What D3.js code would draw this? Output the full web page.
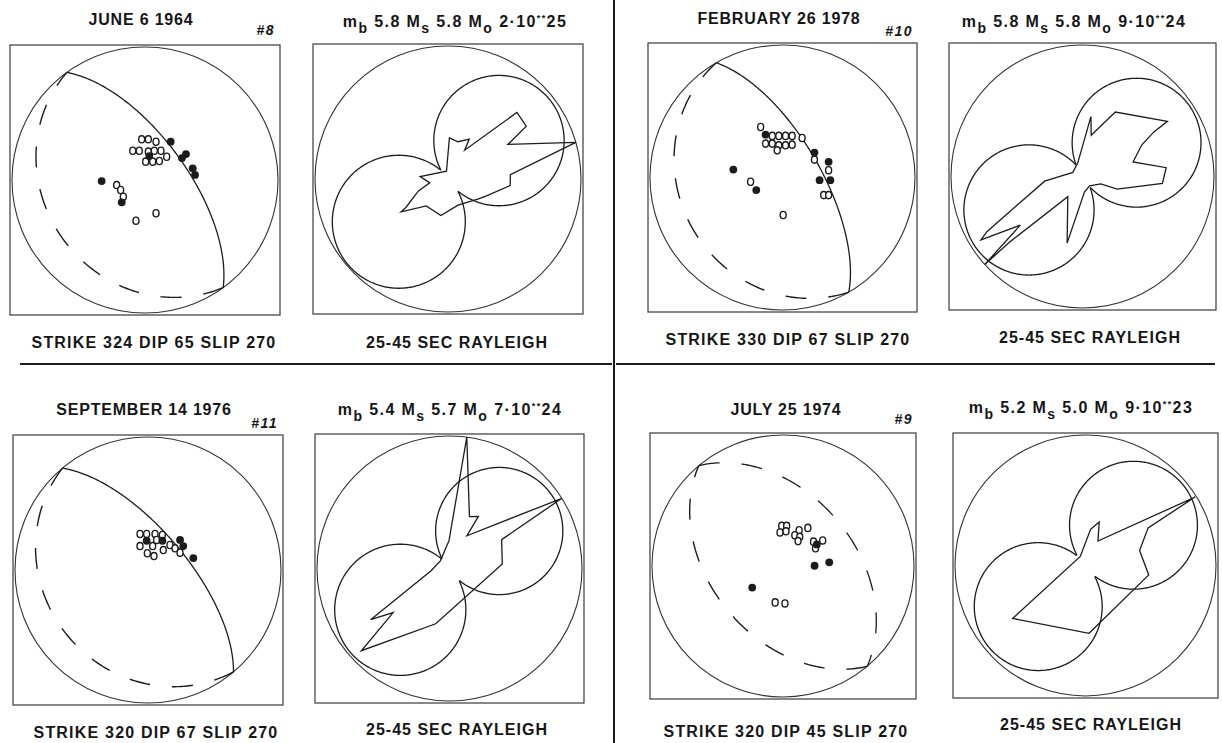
<!DOCTYPE html>
<html><head><meta charset="utf-8">
<script src="https://cdn.jsdelivr.net/npm/d3@7"></script>
<style>
body{margin:0;background:#fff}
svg{display:block}
text{font-family:"Liberation Sans",Arial,sans-serif;font-weight:bold;fill:#161616}
</style></head><body>
<svg id="fig" width="1222" height="743"></svg>
<script>
// ---- Event metadata ----
const eventDates = ["JUNE 6 1964", "FEBRUARY 26 1978", "SEPTEMBER 14 1976", "JULY 25 1974"];
const eventIds = ["#8", "#10", "#11", "#9"];
const strikes = [324, 330, 320, 320];
const dips = [65, 67, 67, 45];
const slips = [270, 270, 270, 270];
const mbValues = ["5.8", "5.8", "5.4", "5.2"];
const msValues = ["5.8", "5.8", "5.7", "5.0"];
const moMantissa = ["2", "9", "7", "9"];
const moExponent = ["25", "24", "24", "23"];
const waveBand = "25-45 SEC RAYLEIGH";
const primaryPlaneDashed = [false, false, false, true];

// ---- P-wave first motions, [east, north] on the equal-area lower hemisphere ----
const dilatations = [
  [[-0.025,0.306],[0.025,0.306],[0.083,0.288],[-0.092,0.220],[-0.043,0.220],[0.025,0.213],[0.070,0.220],[0.120,0.220],[0.163,0.175],[0.005,0.138],[0.058,0.138],[0.108,0.143],[-0.213,-0.038],[-0.183,-0.075],[-0.163,-0.126],[-0.068,-0.306],[0.083,-0.250]],
  [[-0.165,0.381],[-0.077,0.314],[-0.028,0.314],[0.023,0.314],[0.073,0.314],[0.148,0.298],[-0.128,0.256],[-0.077,0.256],[-0.028,0.243],[0.023,0.243],[0.073,0.248],[-0.040,0.205],[0.241,0.135],[0.348,0.055],[0.311,-0.133],[0.348,-0.133],[-0.241,-0.032],[0.005,-0.283]],
  [[-0.060,0.271],[-0.010,0.271],[0.053,0.271],[0.108,0.263],[0.065,0.226],[0.165,0.188],[-0.060,0.180],[0.035,0.180],[0.115,0.150],[0.203,0.163],[0.241,0.130],[-0.005,0.126],[0.045,0.105]],
  [[-0.010,0.306],[0.028,0.306],[-0.023,0.256],[0.023,0.265],[0.123,0.273],[0.190,0.291],[0.090,0.235],[0.128,0.223],[0.115,0.190],[0.233,0.186],[0.303,0.195],[0.248,0.135],[-0.060,-0.278],[0.015,-0.286]]
];
const compressions = [
  [[0.193,0.288],[0.032,0.180],[0.278,0.165],[0.308,0.195],[0.359,0.088],[0.376,0.038],[-0.326,-0.008],[-0.175,-0.168]],
  [[-0.128,0.323],[0.241,0.188],[0.348,0.118],[0.361,-0.020],[0.280,-0.020],[-0.371,0.060],[-0.198,-0.095]],
  [[-0.010,0.220],[0.108,0.220],[0.241,0.226],[0.265,0.180],[0.341,0.090]],
  [[0.258,0.165],[0.241,0.002],[0.353,0.028],[-0.235,-0.165]]
];

// ---- Rayleigh radiation: theoretical lobes [azimuth deg, centre distance, radius] ----
const rayleighLobes = [
  [[53,0.48,0.49],[229,0.49,0.50]],
  [[58,0.485,0.49],[238,0.48,0.495]],
  [[53,0.47,0.48],[230,0.485,0.495]],
  [[50,0.48,0.49],[229,0.48,0.49]]
];
// ---- Observed Rayleigh amplitudes [azimuth deg, relative amplitude] ----
const rayleighObserved = [
  [[2,0.31],[15,0.29],[28,0.34],[30,0.25],[46,0.72],[56,0.71],[60,0.52],[74,1.0],[86,0.47],[96,0.47],[115,0.31],[124,0.27],[159,0.21],[191,0.28],[219,0.26],[235,0.43],[236,0.38],[248,0.24],[258,0.14],[275,0.21],[349,0.06]],
  [[8,0.46],[12,0.32],[27,0.55],[57,0.77],[58,0.64],[62,0.51],[74,0.40],[84,0.64],[95,0.61],[110,0.28],[112,0.15],[143,0.09],[173,0.12],[193,0.52],[216,0.19],[228,0.74],[228,1.0],[232,0.60],[238,0.91],[240,0.84],[263,0.29],[293,0.08],[341,0.11]],
  [[7.5,1.0],[21,0.42],[29,0.45],[28,0.28],[58,1.0],[61,0.45],[85,0.40],[194,0.43],[227,0.91],[232,0.54],[237,0.71],[263,0.14],[310,0.09],[359,0.21]],
  [[8,0.28],[17.5,0.35],[27,0.21],[58,0.99],[59,0.56],[74.5,0.43],[98.5,0.49],[177,0.52],[234,0.69],[330,0.08]]
];

// ---- Page layout ----
const focalBoxes = [[10,45,270],[648,43,269],[13,435,270],[650,433,266]];
const radBoxes   = [[313,44,270],[949,43,267],[315,434,269],[953,433,265]];
const datePos  = [[141,25],[779,24],[144,415],[786,415]];
const idPos    = [[275,35],[913,36],[278,428],[913,424]];
const mechPos  = [[154,348],[788,345],[156,738],[786,737]];
const magPos   = [[455,27],[1074,27],[450,415],[1081,413]];
const bandPos  = [[457,348],[1090,343],[457,735],[1091,730]];

const svg = d3.select("#fig");
const ink = "#1c1c1c";
const rad = Math.PI / 180;

// frame dividers
svg.append("line").attr("x1",614).attr("x2",614).attr("y1",0).attr("y2",743)
  .attr("stroke",ink).attr("stroke-width",2);
svg.append("line").attr("x1",20).attr("x2",612).attr("y1",364).attr("y2",364)
  .attr("stroke",ink).attr("stroke-width",2);
svg.append("line").attr("x1",616).attr("x2",1215).attr("y1",364).attr("y2",364)
  .attr("stroke",ink).attr("stroke-width",2);

function panelFrame(box) {
  const [x0, y0, s] = box;
  const R = s / 2 - 2, cx = x0 + s / 2, cy = y0 + s / 2;
  const x = d3.scaleLinear().domain([-1, 1]).range([cx - R, cx + R]);
  const y = d3.scaleLinear().domain([-1, 1]).range([cy + R, cy - R]);
  const g = svg.append("g");
  g.append("rect").attr("x", x0).attr("y", y0).attr("width", s).attr("height", s)
    .attr("fill", "none").attr("stroke", "#3a3a3a").attr("stroke-width", 1.2);
  g.append("circle").attr("cx", x(0)).attr("cy", y(0)).attr("r", x(1) - x(0))
    .attr("fill", "none").attr("stroke", "#333").attr("stroke-width", 1.1);
  return { g, x, y };
}

// great circle of a plane (strike, dip) on the lower hemisphere, equal-area
function planeTrace(strike, dip) {
  const f = strike * rad, d = dip * rad;
  const s = [Math.cos(f), Math.sin(f), 0];
  const dd = [Math.cos(f + Math.PI / 2) * Math.cos(d), Math.sin(f + Math.PI / 2) * Math.cos(d), Math.sin(d)];
  return d3.range(0, 180.5, 1).map(t => {
    const c = Math.cos(t * rad), si = Math.sin(t * rad);
    const v = [c * s[0] + si * dd[0], c * s[1] + si * dd[1], c * s[2] + si * dd[2]];
    const plunge = Math.asin(Math.min(1, Math.max(-1, v[2])));
    const az = Math.atan2(v[1], v[0]);
    const r = Math.SQRT2 * Math.sin((Math.PI / 2 - plunge) / 2);
    return [r * Math.sin(az), r * Math.cos(az)];
  });
}

// auxiliary plane from strike/dip/rake
function auxPlane(strike, dip, slip) {
  const f = strike * rad, d = dip * rad, l = slip * rad;
  let u = [Math.cos(l) * Math.cos(f) + Math.sin(l) * Math.cos(d) * Math.sin(f),
           Math.cos(l) * Math.sin(f) - Math.sin(l) * Math.cos(d) * Math.cos(f),
           -Math.sin(l) * Math.sin(d)];
  if (u[2] > 0) u = u.map(v => -v);
  const dip2 = Math.acos(-u[2]) / rad;
  const strike2 = (Math.atan2(u[1], u[0]) / rad - 90 + 360) % 360;
  return [strike2, dip2];
}

function polar(az, amp) { return [amp * Math.sin(az * rad), amp * Math.cos(az * rad)]; }

function label(x, y, txt, spacing) {
  return svg.append("text").attr("x", x).attr("y", y).attr("text-anchor", "middle")
    .attr("font-size", 16).style("letter-spacing", spacing + "px").text(txt);
}

for (let i = 0; i < 4; i++) {
  // ---------- focal mechanism ----------
  const F = panelFrame(focalBoxes[i]);
  const line = d3.line().x(p => F.x(p[0])).y(p => F.y(p[1]));
  F.g.append("path").attr("d", line(planeTrace(strikes[i], dips[i])))
    .attr("fill", "none").attr("stroke", ink).attr("stroke-width", 1.3)
    .attr("stroke-dasharray", primaryPlaneDashed[i] ? "21,22" : null);
  const [s2, d2] = auxPlane(strikes[i], dips[i], slips[i]);
  F.g.append("path").attr("d", line(planeTrace(s2, d2)))
    .attr("fill", "none").attr("stroke", ink).attr("stroke-width", 1.4)
    .attr("stroke-dasharray", "21,22");
  F.g.selectAll("ellipse.dil").data(dilatations[i]).join("ellipse")
    .attr("cx", p => F.x(p[0])).attr("cy", p => F.y(p[1]))
    .attr("rx", 3).attr("ry", 3.6).attr("fill", "#fff").attr("stroke", ink).attr("stroke-width", 1.4);
  F.g.selectAll("circle.comp").data(compressions[i]).join("circle")
    .attr("cx", p => F.x(p[0])).attr("cy", p => F.y(p[1]))
    .attr("r", 3.9).attr("fill", ink);

  label(datePos[i][0], datePos[i][1], eventDates[i], 0.8);
  svg.append("text").attr("x", idPos[i][0]).attr("y", idPos[i][1])
    .attr("text-anchor", "end").attr("font-size", 14).attr("font-style", "italic")
    .style("letter-spacing", "1.5px").text(eventIds[i]);
  label(mechPos[i][0], mechPos[i][1], `STRIKE ${strikes[i]} DIP ${dips[i]} SLIP ${slips[i]}`, 1.2);

  // ---------- Rayleigh radiation pattern ----------
  const P = panelFrame(radBoxes[i]);
  const lobes = rayleighLobes[i].map(([az, dist, r]) => ({ c: polar(az, dist), r }));
  lobes.forEach((lb, k) => {
    const other = lobes[1 - k];
    const pts = d3.range(0, 361, 1).map(t => [lb.c[0] + lb.r * Math.sin(t * rad), lb.c[1] + lb.r * Math.cos(t * rad)]);
    const outside = p => Math.hypot(p[0] - other.c[0], p[1] - other.c[1]) >= other.r;
    P.g.append("path")
      .attr("d", d3.line().defined(outside).x(p => P.x(p[0])).y(p => P.y(p[1]))(pts))
      .attr("fill", "none").attr("stroke", ink).attr("stroke-width", 1.3);
  });
  P.g.append("path")
    .attr("d", d3.line().curve(d3.curveLinearClosed).x(p => P.x(p[0])).y(p => P.y(p[1]))(rayleighObserved[i].map(o => polar(o[0], o[1]))))
    .attr("fill", "none").attr("stroke", ink).attr("stroke-width", 1.3).attr("stroke-linejoin", "miter");

  const t = svg.append("text").attr("x", magPos[i][0]).attr("y", magPos[i][1])
    .attr("text-anchor", "middle").attr("font-size", 16).style("letter-spacing", "1.4px");
  const parts = [["m",0],["b",1],[` ${mbValues[i]} M`,0],["s",1],[` ${msValues[i]} M`,0],["o",1],
                 [` ${moMantissa[i]}·10`,0],["**",2],[moExponent[i],0]];
  let shift = 0;
  parts.forEach(([txt, kind]) => {
    const target = kind === 1 ? 6 : kind === 2 ? -6 : 0;
    t.append("tspan").attr("dy", target - shift)
      .attr("font-size", kind === 1 ? 14 : kind === 2 ? 9 : 16).text(txt);
    shift = target;
  });
  label(bandPos[i][0], bandPos[i][1], waveBand, 1.0);
}
</script>
</body></html>
